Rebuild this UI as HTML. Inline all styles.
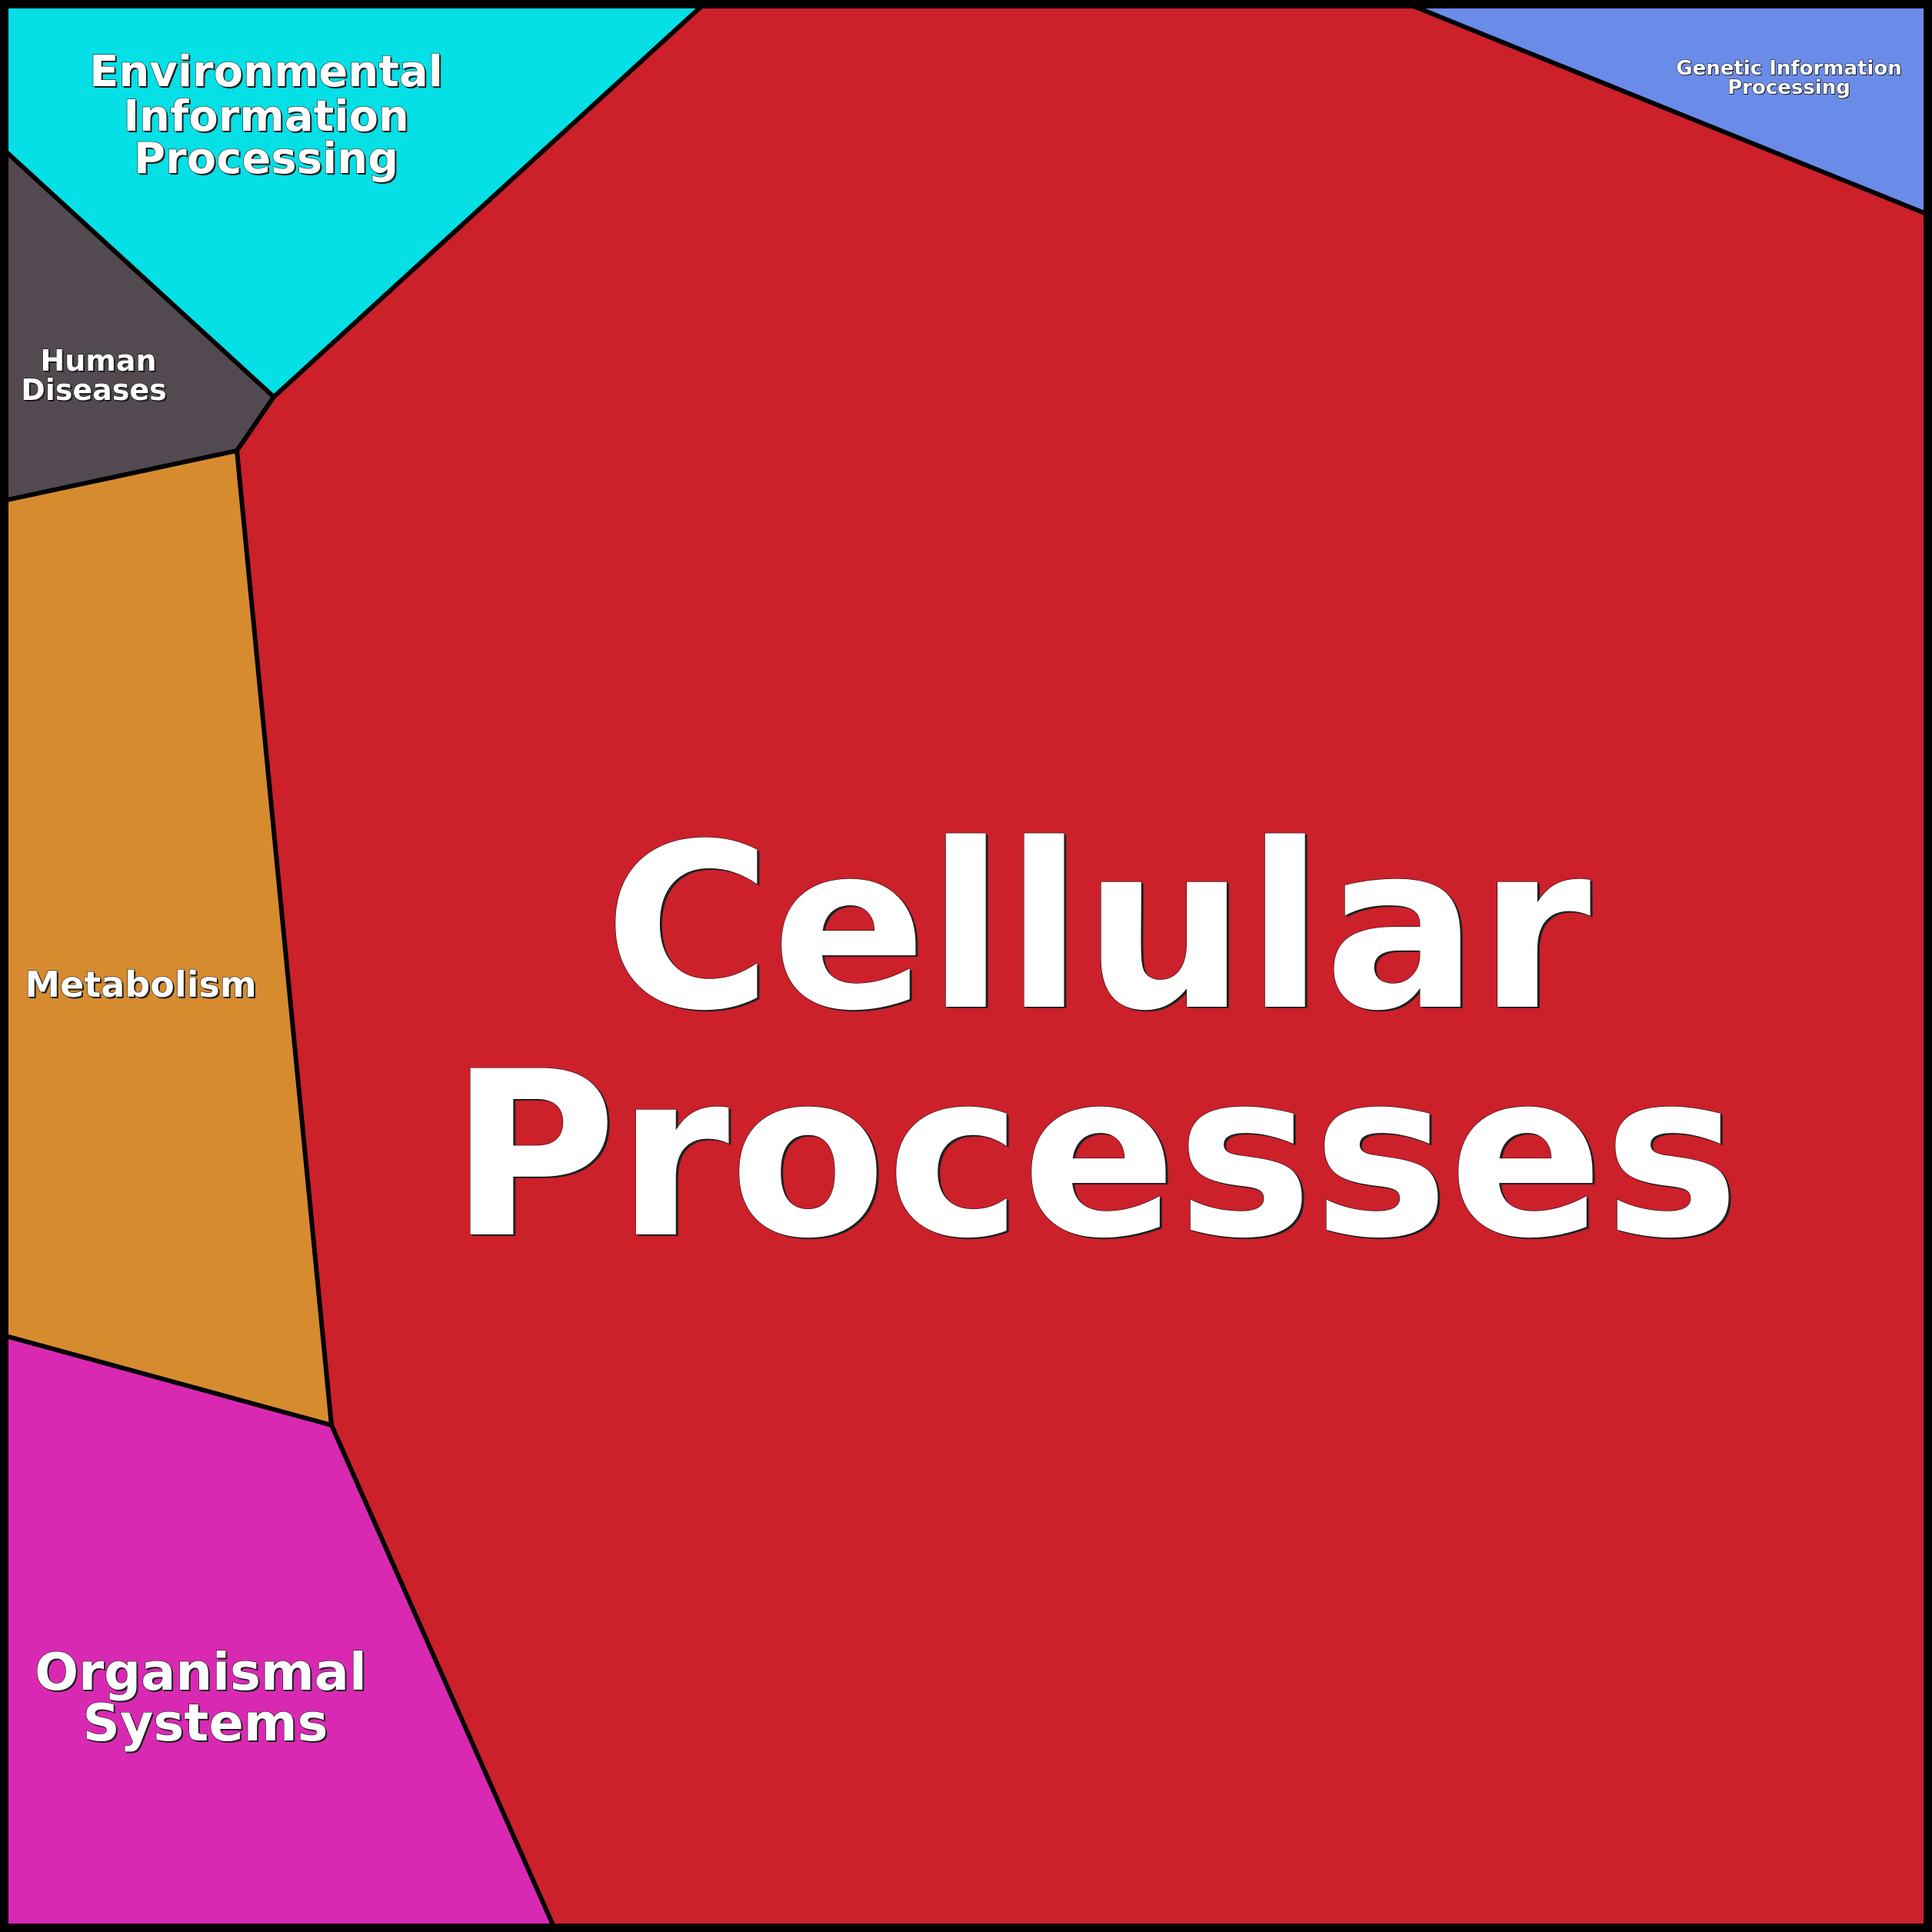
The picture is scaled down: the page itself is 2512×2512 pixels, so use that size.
<!DOCTYPE html>
<html><head><meta charset="utf-8"><style>
html,body{margin:0;padding:0;background:#000;}
svg{display:block;}
text{font-family:"DejaVu Sans","Liberation Sans",sans-serif;font-weight:bold;text-anchor:middle;}
.sh{fill:#222;}
.t{fill:#fff;stroke:#000;stroke-width:1;paint-order:stroke;}
</style></head><body>
<svg width="2512" height="2512" viewBox="0 0 2512 2512" xmlns="http://www.w3.org/2000/svg">
<g stroke="none">
<rect x="0" y="0" width="2512" height="2512" fill="#CC202B"/>
<polygon points="0,0 921,0 356,516 0,190" fill="#05DFE6"/>
<polygon points="0,190 356,516 308,586 0,652" fill="#524A50"/>
<polygon points="0,652 308,586 431,1853 0,1735" fill="#D68B2F"/>
<polygon points="0,1735 431,1853 723,2512 0,2512" fill="#D929B3"/>
<polygon points="1818,0 2512,0 2512,281" fill="#6A8BE8"/>
</g>
<g stroke="#000" stroke-width="6" stroke-linejoin="round" fill="none">
<polyline points="921,0 356,516 0,190"/>
<polyline points="356,516 308,586 0,652"/>
<polyline points="308,586 431,1853 0,1735"/>
<polyline points="431,1853 723,2512"/>
<polyline points="1818,0 2512,281"/>
</g>
<rect x="5.5" y="5.5" width="2501" height="2501" fill="none" stroke="#000" stroke-width="11"/>

<g font-size="297">
<text class="sh" x="1430" y="1311">Cellular</text>
<text class="t" x="1427" y="1309">Cellular</text>
<text class="sh" x="1426" y="1607">Processes</text>
<text class="t" x="1423" y="1605">Processes</text>
</g>

<g font-size="56">
<text class="sh" x="348" y="114">Environmental</text>
<text class="t" x="346" y="112">Environmental</text>
<text class="sh" x="348" y="172">Information</text>
<text class="t" x="346" y="170">Information</text>
<text class="sh" x="348" y="227">Processing</text>
<text class="t" x="346" y="225">Processing</text>
</g>

<g font-size="38">
<text class="sh" x="130" y="484">Human</text>
<text class="t" x="128" y="482">Human</text>
<text class="sh" x="124" y="522">Diseases</text>
<text class="t" x="122" y="520">Diseases</text>
</g>

<g font-size="46">
<text class="sh" x="185" y="1298">Metabolism</text>
<text class="t" x="183" y="1296">Metabolism</text>
</g>

<g font-size="67">
<text class="sh" x="263" y="2199">Organismal</text>
<text class="t" x="261" y="2197">Organismal</text>
<text class="sh" x="269" y="2265">Systems</text>
<text class="t" x="267" y="2263">Systems</text>
</g>

<g font-size="26">
<text class="sh" x="2327" y="98">Genetic Information</text>
<text class="t" x="2326" y="97">Genetic Information</text>
<text class="sh" x="2327" y="123">Processing</text>
<text class="t" x="2326" y="122">Processing</text>
</g>
</svg>
</body></html>
